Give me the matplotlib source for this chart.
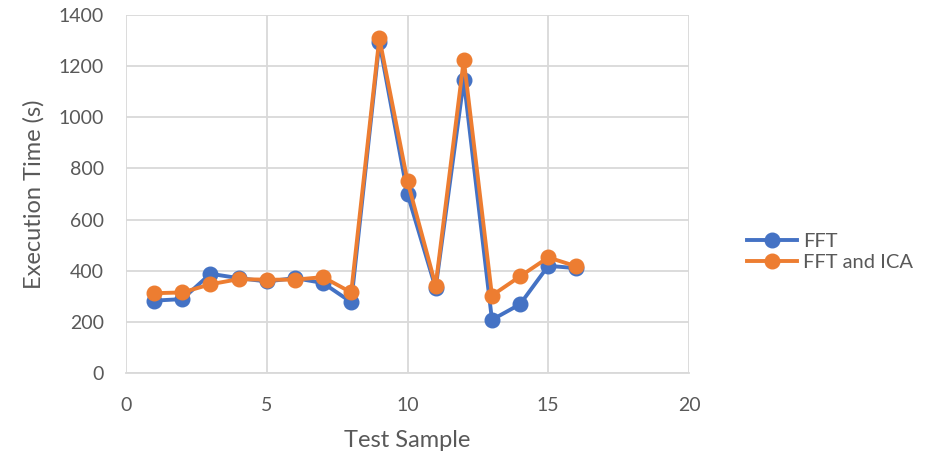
import matplotlib.pyplot as plt

# data
samples = list(range(1, 17))
fft = [283, 289, 388, 371, 358, 371, 352, 277, 1293, 700, 332, 1145, 208, 269, 419, 410]
fft_ica = [312, 315, 347, 367, 365, 365, 375, 315, 1310, 750, 342, 1225, 303, 378, 452, 417]

plt.rcParams['font.family'] = ['Lato', 'DejaVu Sans']

fig = plt.figure(figsize=(9.46, 4.62), dpi=100)
ax = fig.add_axes([126 / 946, 1 - 373 / 462, (689 - 126) / 946, (373 - 15) / 462])

ax.plot(samples, fft, color="#4472C4", linewidth=2.8, marker="o",
        markersize=10.5, label="FFT")
ax.plot(samples, fft_ica, color="#ED7D31", linewidth=2.8, marker="o",
        markersize=10.5, label="FFT and ICA")

ax.set_xlim(0, 20)
ax.set_ylim(0, 1400)
ax.set_xticks([0, 5, 10, 15, 20])
ax.set_yticks(range(0, 1401, 200))
ax.grid(True, color="#D9D9D9", linewidth=1.3)
ax.set_axisbelow(True)
for s in ["top", "right", "left"]:
    ax.spines[s].set_visible(False)
ax.spines["bottom"].set_color("#D9D9D9")
ax.spines["bottom"].set_linewidth(1.3)
ax.tick_params(length=0, labelsize=14, colors="#595959")
ax.tick_params(axis="y", pad=16)
ax.tick_params(axis="x", pad=17)

ax.set_xlabel("Test Sample", fontsize=17, color="#595959", labelpad=12)
ax.set_ylabel("Execution Time (s)", fontsize=17, color="#595959", labelpad=10)

leg = fig.legend(loc="center left", bbox_to_anchor=(737 / 946, 1 - 252 / 462),
                 frameon=False, fontsize=14.5, handlelength=2.5,
                 handletextpad=0.3, labelspacing=0.15, borderpad=0)
for t in leg.get_texts():
    t.set_color("#595959")

fig.savefig("out.png", dpi=100, facecolor="white")
